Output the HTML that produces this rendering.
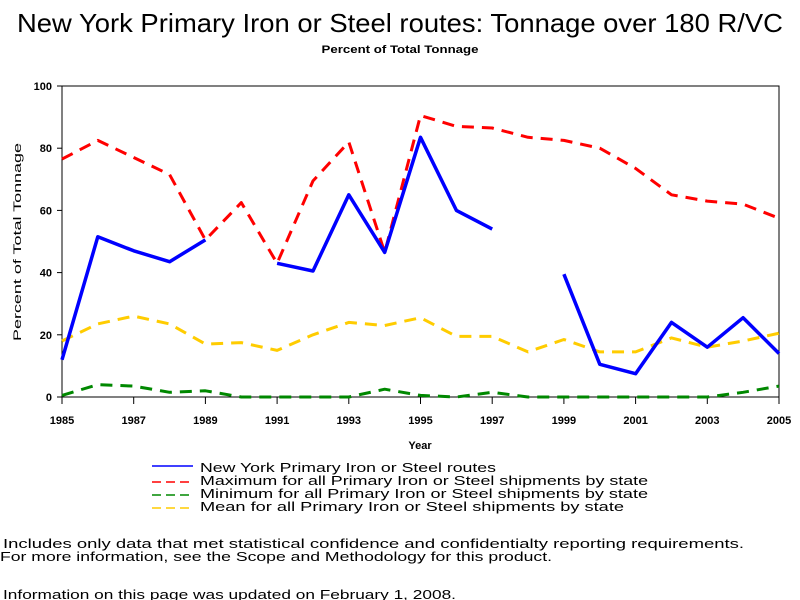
<!DOCTYPE html>
<html><head><meta charset="utf-8"><style>html,body{margin:0;padding:0;background:#fff}svg{display:block}text{font-family:"Liberation Sans",sans-serif}</style></head>
<body>
<svg id="chart" width="800" height="600" viewBox="0 0 800 600" xmlns="http://www.w3.org/2000/svg">
<text x="400" y="32" font-size="26" text-anchor="middle" textLength="766" lengthAdjust="spacingAndGlyphs">New York Primary Iron or Steel routes: Tonnage over 180 R/VC</text>
<text x="400" y="53" font-size="11" font-weight="bold" text-anchor="middle" textLength="157" lengthAdjust="spacingAndGlyphs">Percent of Total Tonnage</text>
<rect x="62" y="86" width="717" height="311" fill="none" stroke="#000" stroke-width="1"/>
<g id="yticks"></g>
<g id="xticks"></g>
<text transform="translate(21,242) rotate(-90)" font-size="11" text-anchor="middle" textLength="198" lengthAdjust="spacingAndGlyphs">Percent of Total Tonnage</text>
<text x="420" y="449" font-size="11" font-weight="bold" text-anchor="middle">Year</text>
<g id="series"></g>
<g>
<line x1="152" y1="466" x2="193" y2="466" stroke="#00f" stroke-width="1.5"/>
<line x1="152" y1="482" x2="193" y2="482" stroke="#f00" stroke-width="1.5" stroke-dasharray="9,5"/>
<line x1="152" y1="495" x2="193" y2="495" stroke="#080" stroke-width="1.5" stroke-dasharray="9,5"/>
<line x1="152" y1="508" x2="193" y2="508" stroke="#fc0" stroke-width="1.5" stroke-dasharray="9,5"/>
<text x="200" y="472" font-size="13" textLength="296" lengthAdjust="spacingAndGlyphs">New York Primary Iron or Steel routes</text>
<text x="200" y="485" font-size="13" textLength="448" lengthAdjust="spacingAndGlyphs">Maximum for all Primary Iron or Steel shipments by state</text>
<text x="200" y="498" font-size="13" textLength="448" lengthAdjust="spacingAndGlyphs">Minimum for all Primary Iron or Steel shipments by state</text>
<text x="200" y="511" font-size="13" textLength="424" lengthAdjust="spacingAndGlyphs">Mean for all Primary Iron or Steel shipments by state</text>
</g>
<text x="3" y="548" font-size="13" textLength="741" lengthAdjust="spacingAndGlyphs">Includes only data that met statistical confidence and confidentialty reporting requirements.</text>
<text x="0" y="561" font-size="13" textLength="552" lengthAdjust="spacingAndGlyphs">For more information, see the Scope and Methodology for this product.</text>
<text x="3" y="599" font-size="13" textLength="453" lengthAdjust="spacingAndGlyphs">Information on this page was updated on February 1, 2008.</text>
</svg>
<script>
const years=[1985,1986,1987,1988,1989,1990,1991,1992,1993,1994,1995,1996,1997,1998,1999,2000,2001,2002,2003,2004,2005];
const nyValues=[12,51.5,47,43.5,50.5,null,43,40.5,65,46.5,83.5,60,54,null,39.5,10.5,7.5,24,16,25.5,14];
const maxValues=[76.5,82.5,77,71.5,50.5,62.5,43,69.5,82,46.5,90.5,87,86.5,83.5,82.5,80,73.5,65,63,62,57.5];
const minValues=[0.5,4,3.5,1.5,2,0,0,0,0,2.5,0.5,0,1.5,0,0,0,0,0,0,1.5,3.5];
const meanValues=[18,23.5,26,23.5,17,17.5,15,20,24,23,25.5,19.5,19.5,14.5,18.5,14.5,14.5,19,16,18,20.5];
const yTicks=[0,20,40,60,80,100];
const xTickYears=[1985,1987,1989,1991,1993,1995,1997,1999,2001,2003,2005];
const NS="http://www.w3.org/2000/svg";
const X=y=>62+(y-1985)*(717/20);
const Y=v=>397-v*3.11;
function mk(t,a,p){const e=document.createElementNS(NS,t);for(const k in a)e.setAttribute(k,a[k]);p.appendChild(e);return e;}
const yt=document.getElementById('yticks');
yTicks.forEach(v=>{
  const l=mk('line',{x1:57,x2:62,y1:Y(v),y2:Y(v),stroke:'#000'},yt);
  
  
  const t=mk('text',{x:52,y:Y(v)+4,'font-size':11,'font-weight':'bold','text-anchor':'end'},yt);
  
  
  t.textContent=v;
});
const xt=document.getElementById('xticks');
xTickYears.forEach(yr=>{
  const l=mk('line',{x1:X(yr),x2:X(yr),y1:397,y2:404,stroke:'#000'},xt);
  
  
  const t=mk('text',{x:X(yr),y:424,'font-size':11,'font-weight':'bold','text-anchor':'middle'},xt);
  
  
  t.textContent=yr;
});
const sg=document.getElementById('series');
function draw(vals,color,w,dash,name){
  let d='',pen=false;
  vals.forEach((v,i)=>{if(v===null){pen=false;return;}d+=(pen?'L':'M')+X(years[i]).toFixed(1)+','+Y(v).toFixed(1);pen=true;});
  const p=mk('path',{d:d,fill:'none',stroke:color,'stroke-width':w,'stroke-linejoin':'round'},sg);
  if(dash)p.setAttribute('stroke-dasharray',dash);
  
  
}
draw(meanValues,'#fc0',3,'12,8','series-mean');
draw(minValues,'#080',3,'12,8','series-min');
draw(maxValues,'#f00',3,'12,8','series-max');
draw(nyValues,'#00f',3.5,null,'series-new-york');
</script>
</body></html>
